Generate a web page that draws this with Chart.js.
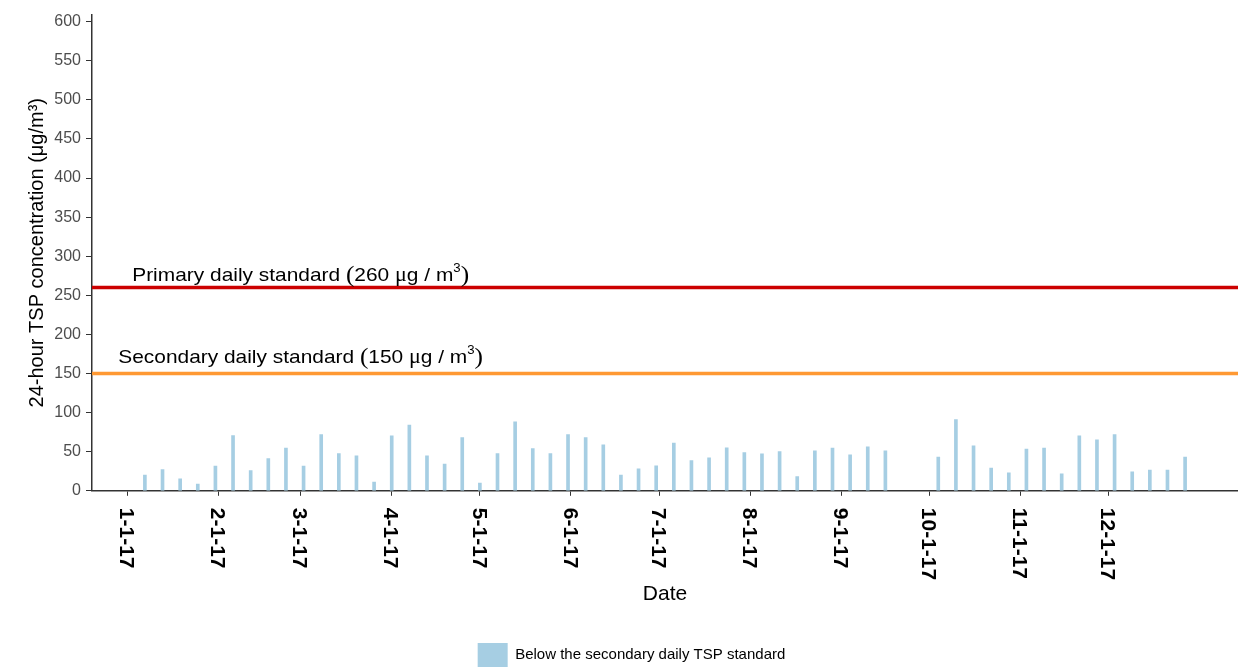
<!DOCTYPE html>
<html>
<head>
<meta charset="utf-8">
<script src="https://cdn.jsdelivr.net/npm/chart.js@4.4.1/dist/chart.umd.min.js"></script>
<style>
html,body{margin:0;padding:0;background:#fff;}
canvas{display:block;}
</style>
</head>
<body>
<canvas id="c" width="1238" height="668" style="width:1238px;height:668px;"></canvas>
<script>
// ---- data ----
// sample dates, as day of year 2017 (0 = Jan 1)
const sampleDays = [6,12,18,24,30,36,42,48,54,60,66,72,78,84,90,96,102,108,114,120,
  126,132,138,144,150,156,162,168,174,180,186,192,198,204,210,216,222,228,234,240,
  246,252,258,264,270,276,282,288,294,300,306,312,318,324,330,336,342,348,354,360];
// 24-hour TSP concentration (ug/m3); null = no sample
const tspValues = [20,27,15.3,8.5,31.5,70.6,26,41.2,54.5,31.5,71.9,47.6,44.7,11.1,
  70.2,83.9,44.7,34.1,68,9.8,47.6,88.1,54,47.6,71.9,68,58.7,20,28.1,31.9,60.9,
  38.7,42.1,54.9,48.9,47.2,50.2,18.3,51.1,54.5,46,56.2,51.1,
  null,null,
  43,91,
  57.4,29,23,53.2,54.5,21.7,70.2,65.1,71.9,24.3,26.4,26.4,43];
const tickDays = [0,31,59,90,120,151,181,212,243,273,304,334];
const tickLabels = ['1-1-17','2-1-17','3-1-17','4-1-17','5-1-17','6-1-17','7-1-17',
  '8-1-17','9-1-17','10-1-17','11-1-17','12-1-17'];
const standardValues = [260, 150];
const standardNames = ['Primary daily standard ', 'Secondary daily standard '];
const standardNumbers = ['260', '150'];
const standardLabelDay = 59;          // labels centred on 1 March
const standardLabelY = [268, 163.5];  // label baselines (data units)
const xMin = -12, xMax = 378;
const yMin = 0, yMax = 609;
const seriesName = 'Below the secondary daily TSP standard';

// ---- chart ----
const SANS = '"Liberation Sans", Arial, Helvetica, sans-serif';
const SERIF = '"Liberation Serif", "Times New Roman", serif';
Chart.defaults.font.family = SANS;

const barPoints = sampleDays.map((d, i) => ({x: d, y: tspValues[i]}));
const lineColors = ['#cc0000', '#ff9933'];

const tickLabelPlugin = {
  id: 'rotatedTicks',
  afterDraw(chart) {
    const ctx = chart.ctx, xs = chart.scales.x;
    ctx.save();
    ctx.font = 'bold 21px ' + SANS;
    ctx.fillStyle = '#000';
    ctx.textAlign = 'left';
    ctx.textBaseline = 'middle';
    tickDays.forEach((d, i) => {
      const px = xs.getPixelForValue(d);
      ctx.save();
      ctx.translate(px - 1.5, xs.top + 17);
      ctx.rotate(Math.PI / 2);
      ctx.fillText(tickLabels[i], 0, 0);
      ctx.restore();
    });
    ctx.restore();
  }
};

const standardLabelPlugin = {
  id: 'standardLabels',
  afterDatasetsDraw(chart) {
    const ctx = chart.ctx, xs = chart.scales.x, ys = chart.scales.y;
    const sx = 1.1;
    standardValues.forEach((v, i) => {
      const parts = [
        {t: standardNames[i], f: '19px ' + SANS, dy: 0},
        {t: '(', f: '23px ' + SERIF, dy: 1},
        {t: standardNumbers[i] + ' ', f: '19px ' + SANS, dy: 0},
        {t: '\u03bc', f: '20px ' + SERIF, dy: 0},
        {t: 'g / m', f: '19px ' + SANS, dy: 0},
        {t: '3', f: '12px ' + SANS, dy: -9},
        {t: ')', f: '23px ' + SERIF, dy: 1}
      ];
      ctx.save();
      let total = 0;
      parts.forEach(p => { ctx.font = p.f; p.w = ctx.measureText(p.t).width; total += p.w; });
      const cx = xs.getPixelForValue(standardLabelDay);
      const by = ys.getPixelForValue(standardLabelY[i]);
      ctx.translate(cx - total * sx / 2, by);
      ctx.scale(sx, 1);
      ctx.fillStyle = '#000';
      ctx.textAlign = 'left';
      ctx.textBaseline = 'alphabetic';
      let x = 0;
      parts.forEach(p => { ctx.font = p.f; ctx.fillText(p.t, x, p.dy); x += p.w; });
      ctx.restore();
    });
  }
};

new Chart(document.getElementById('c'), {
  type: 'bar',
  data: {
    datasets: [
      {
        type: 'bar',
        label: seriesName,
        data: barPoints,
        backgroundColor: '#a6cee3',
        borderWidth: 0,
        barThickness: 3,
        order: 2
      },
      {
        type: 'line',
        label: 'primary',
        data: [{x: xMin, y: standardValues[0]}, {x: xMax, y: standardValues[0]}],
        borderColor: lineColors[0],
        borderWidth: 3.5,
        pointRadius: 0,
        fill: false,
        order: 1
      },
      {
        type: 'line',
        label: 'secondary',
        data: [{x: xMin, y: standardValues[1]}, {x: xMax, y: standardValues[1]}],
        borderColor: lineColors[1],
        borderWidth: 3.5,
        pointRadius: 0,
        fill: false,
        order: 1
      }
    ]
  },
  options: {
    responsive: false,
    animation: false,
    devicePixelRatio: 1,
    layout: {padding: {left: 25, right: 0, top: 13, bottom: -9}},
    plugins: {
      tooltip: {enabled: false},
      legend: {
        display: true,
        position: 'bottom',
        labels: {
          filter: item => item.datasetIndex === 0,
          boxWidth: 30,
          boxHeight: 24,
          padding: 10,
          color: '#000',
          font: {size: 15}
        }
      }
    },
    scales: {
      x: {
        type: 'linear',
        min: xMin,
        max: xMax,
        offset: false,
        afterBuildTicks: s => { s.ticks = tickDays.map(v => ({value: v})); },
        ticks: {display: false},
        grid: {display: true, drawOnChartArea: false, drawTicks: true, tickLength: 5, color: '#333', offset: false},
        border: {display: true, color: '#333', width: 1.5},
        title: {display: true, text: 'Date', color: '#000', font: {size: 21}, padding: {top: 86, bottom: 26}}
      },
      y: {
        type: 'linear',
        min: yMin,
        max: yMax,
        afterFit: s => { s.width = 67; },
        ticks: {stepSize: 50, includeBounds: false, color: '#4d4d4d', font: {size: 16}, padding: 5},
        grid: {display: true, drawOnChartArea: false, drawTicks: true, tickLength: 6, color: '#333'},
        border: {display: true, color: '#333', width: 1.5},
        title: {display: true, text: '24-hour TSP concentration (\u03bcg/m\u00b3)', color: '#000', font: {size: 20}, padding: 0}
      }
    }
  },
  plugins: [tickLabelPlugin, standardLabelPlugin]
});
</script>
</body>
</html>
